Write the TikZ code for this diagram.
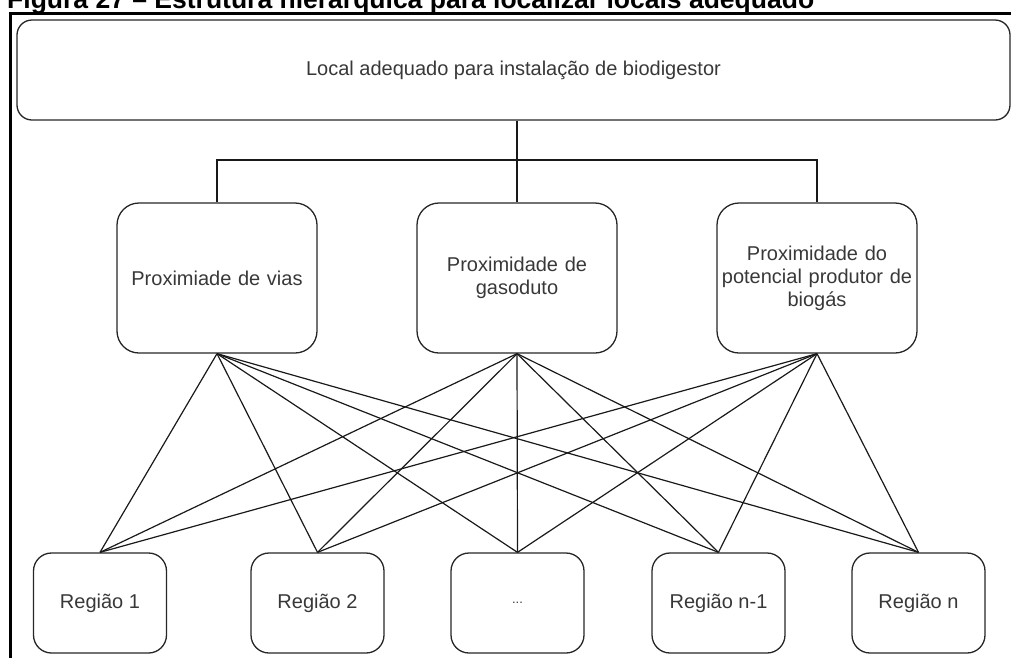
\documentclass[tikz,border=0pt]{standalone}
\usepackage{fontspec}
\setmainfont{Liberation Sans}
\begin{document}
\begin{tikzpicture}[x=1pt,y=-1pt,
  box/.style={draw=black!85, line width=1.3pt, rounded corners=#1, align=center,
    font=\fontsize{20}{23}\selectfont, text=black!78, inner sep=0pt},
  conn/.style={draw=black!90, line width=1.2pt},
  frame/.style={draw=black, line width=3pt}]
\useasboundingbox (0,0) rectangle (1011,657);
% title (cut at top)
\node[anchor=base west, inner sep=0pt, font=\fontsize{26.5}{30}\selectfont\bfseries] (title) at (7,8)
  {Figura 27 – Estrutura hierárquica para localizar locais adequado};
% frame
\draw[frame] (1015,13.5) -- (10,13.5) -- (10,660);
% top box
\node[box=15pt, minimum width=993, minimum height=100] (top) at (513.5,70)
  {Local adequado para instalação de biodigestor};
% middle
\node[box=22pt, minimum width=200, minimum height=150, text width=192] (m1) at (217,278) {Proximiade de vias};
\node[box=22pt, minimum width=200, minimum height=150, text width=192] (m2) at (517,278) {Proximidade de\\gasoduto};
\node[box=22pt, minimum width=200, minimum height=150, text width=192] (m3) at (817,278) {Proximidade do\\potencial produtor de\\biogás};
% bottom
\node[box=18pt, minimum width=133, minimum height=100] (r1) at (100,603) {Região 1};
\node[box=18pt, minimum width=133, minimum height=100] (r2) at (317.5,603) {Região 2};
\node[box=18pt, minimum width=133, minimum height=100, font=\fontsize{13}{15}\selectfont] (r3) at (517.5,603) {...};
\node[box=18pt, minimum width=133, minimum height=100] (r4) at (718.5,603) {Região n-1};
\node[box=18pt, minimum width=133, minimum height=100] (r5) at (918.5,603) {Região n};
% connectors top -> middle
\coordinate (hub) at (517,160);
\draw[conn] (m2.north |- top.south) -- (m2.north);
\draw[conn] (m1.north) |- (hub) -| (m3.north);
% connectors middle -> bottom
\foreach \m in {m1,m2,m3}{
  \foreach \r in {r1,r2,r3,r4,r5}{
    \draw[conn] (\m.south) -- (\r.north);
  }
}
\end{tikzpicture}
\end{document}
